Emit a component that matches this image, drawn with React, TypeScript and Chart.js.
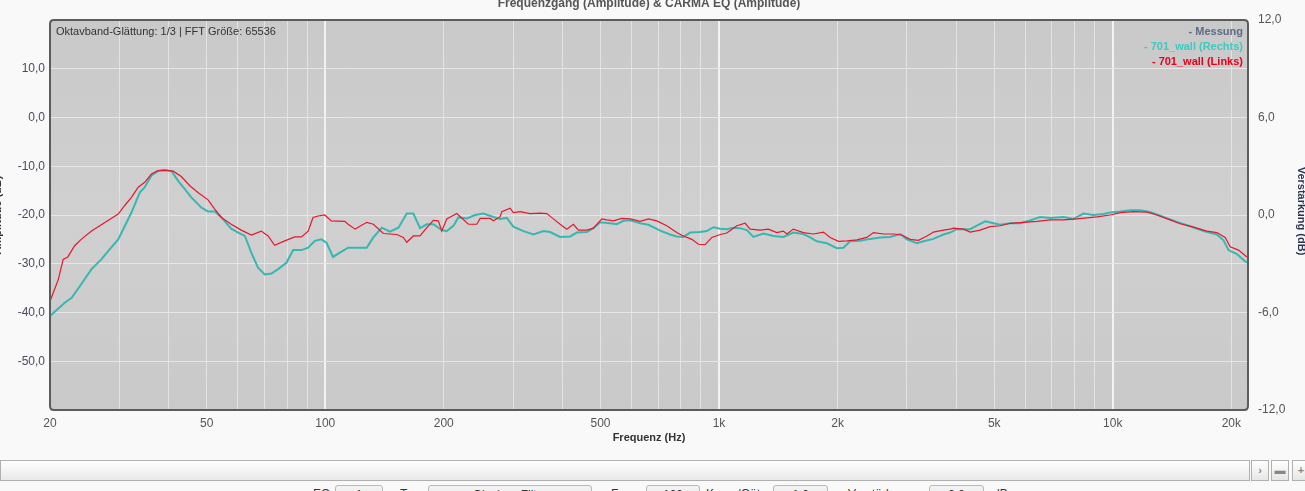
import React, { useEffect, useRef } from 'react';
import { Chart, registerables } from 'chart.js';
Chart.register(...registerables);

const FONT = "'Liberation Sans', Arial, sans-serif";

const chartTitle = 'Frequenzgang (Amplitude) & CARMA EQ (Amplitude)';
const infoText = 'Oktavband-Glättung: 1/3 | FFT Größe: 65536';
const xAxisTitle = 'Frequenz (Hz)';
const leftAxisTitle = 'Amplitude (dB)';
const rightAxisTitle = 'Verstärkung (dB)';

const legendLabels = ['- Messung', '- 701_wall (Rechts)', '- 701_wall (Links)'];
const legendColors = ['#5d6a88', '#3ccac2', '#e8001c'];

const xMin = 20;
const xMax = 22050;
const xGridValues = [20, 30, 40, 50, 60, 70, 80, 90, 100, 200, 300, 400, 500, 600, 700, 800, 900, 1000, 2000, 3000, 4000, 5000, 6000, 7000, 8000, 9000, 10000, 20000];
const xLabelValues = [20, 50, 100, 200, 500, 1000, 2000, 5000, 10000, 20000];
const xDecades = [100, 1000, 10000];

const leftMin = -60;
const leftMax = 20;
const leftStep = 10;
const rightMin = -12;
const rightMax = 12;
const rightStep = 6;

const rechtsFreq = [20, 21.8, 22.7, 24.0, 25.5, 27.0, 28.1, 29.8, 31.0, 32.2, 33.8, 34.8, 36.2, 37.6, 39.1, 40.7, 42.3, 44.0, 45.7, 48.5, 50.4, 52.4, 54.5, 57.7, 60.1, 62.5, 64.9, 67.5, 70.2, 73.0, 75.9, 79.7, 82.9, 87.0, 90.5, 94.1, 97.8, 100.7, 104.7, 108.9, 114.3, 127.5, 132.5, 139.2, 146.1, 153.4, 161.1, 167.4, 174.1, 181.1, 188.2, 197.7, 203.5, 211.6, 217.8, 228.9, 240.2, 252.2, 267.3, 278, 289.1, 300.4, 318.7, 337.9, 358.2, 372.5, 394.9, 418.8, 435.5, 461.7, 479.8, 499, 529, 550, 572, 595, 630, 662, 709, 751, 781, 812, 845, 895, 931, 968, 1007, 1047, 1088, 1131, 1177, 1223, 1297, 1375, 1457, 1545, 1638, 1704, 1772, 1879, 1992, 2070, 2153, 2282, 2420, 2566, 2720, 2884, 3000, 3180, 3306, 3504, 3716, 3864, 4018, 4344, 4518, 4742, 4978, 5176, 5488, 5820, 6170, 6542, 6934, 7496, 7948, 8426, 8934, 9472, 9850, 10444, 11072, 11738, 12446, 13452, 14546, 15726, 17002, 18384, 19108, 19674, 20660, 21900];
const rechtsDb = [-40.7, -38.0, -37.0, -34.2, -31.1, -29.1, -27.4, -25.0, -22.2, -19.5, -15.4, -14.3, -11.9, -11.0, -10.8, -11.0, -13.0, -14.7, -16.4, -18.5, -19.3, -19.3, -20.5, -22.8, -23.6, -24.3, -27.7, -30.8, -32.2, -32.0, -31.1, -29.8, -27.2, -27.2, -26.7, -25.3, -25.0, -25.7, -28.6, -27.7, -26.7, -26.7, -24.6, -22.6, -23.4, -22.6, -19.7, -19.7, -22.7, -21.9, -21.9, -23.1, -23.3, -22.2, -20.5, -20.7, -20.0, -19.7, -20.4, -20.8, -20.6, -22.4, -23.3, -24.0, -23.3, -23.5, -24.5, -24.4, -23.6, -23.5, -22.7, -21.5, -21.7, -21.9, -21.2, -21.1, -21.7, -22.0, -23.2, -24.0, -24.4, -24.5, -23.6, -23.5, -23.3, -22.5, -22.8, -22.9, -22.6, -22.7, -23.1, -24.5, -23.8, -24.3, -24.5, -23.6, -23.9, -24.6, -25.4, -25.8, -26.8, -26.7, -25.4, -25.3, -24.9, -24.6, -24.5, -23.9, -25.0, -25.8, -25.4, -24.9, -24.0, -23.6, -22.9, -22.9, -22.2, -21.3, -21.7, -22.0, -21.7, -21.7, -21.1, -20.4, -20.6, -20.4, -20.8, -19.7, -20.0, -19.8, -19.5, -19.3, -19.0, -19.0, -19.4, -20.4, -21.4, -22.3, -23.3, -24.0, -25.2, -27.2, -28.0, -29.8];

const linksFreq = [20, 21.0, 21.6, 22.2, 23.1, 24.0, 25.5, 27.0, 28.6, 29.8, 31.0, 32.2, 33.5, 34.8, 36.2, 37.6, 39.1, 41.1, 43.1, 45.3, 47.5, 50.4, 52.4, 54.5, 57.7, 61.2, 64.9, 68.8, 71.6, 74.4, 78.9, 83.7, 87.0, 90.5, 93.1, 95.9, 99.7, 103.6, 112.1, 114.3, 119.1, 127.5, 132.5, 140.5, 151.9, 157.9, 161.1, 167.4, 174.1, 181.1, 188.2, 193.8, 197.7, 203.5, 215.8, 231.0, 242.6, 247.4, 262.2, 267.3, 278.0, 280.8, 294.8, 300.4, 312.5, 331.3, 351.3, 365.3, 379.7, 394.9, 410.6, 426.8, 439.5, 461.7, 479.8, 504, 519, 539, 566, 595, 630, 662, 695, 737, 781, 812, 853, 887, 922, 959, 1007, 1047, 1110, 1165, 1200, 1272, 1335, 1402, 1457, 1487, 1545, 1638, 1737, 1842, 1915, 2011, 2112, 2239, 2374, 2468, 2617, 2774, 2914, 3058, 3210, 3373, 3504, 3716, 3864, 3940, 4178, 4344, 4604, 4882, 5176, 5488, 5934, 6416, 6934, 7496, 8106, 8596, 9114, 9850, 10444, 11288, 12208, 12942, 13990, 14832, 16036, 17340, 18384, 19298, 19872, 20860, 21900];
const linksDb = [-37.7, -33.2, -29.1, -28.6, -26.3, -25.0, -23.3, -22.0, -20.7, -19.8, -18.0, -16.4, -14.3, -13.3, -11.6, -10.9, -10.8, -11.0, -12.1, -14.0, -15.4, -16.9, -18.8, -20.5, -21.9, -23.1, -24.1, -23.3, -24.3, -26.2, -25.3, -24.5, -24.5, -23.3, -20.5, -20.2, -20.0, -21.2, -21.3, -21.9, -22.9, -21.5, -21.9, -23.8, -24.0, -24.6, -25.6, -24.3, -24.3, -22.6, -21.1, -21.2, -23.3, -20.8, -19.7, -21.9, -21.9, -20.7, -20.7, -21.2, -20.4, -19.3, -18.6, -19.5, -19.3, -19.7, -19.6, -19.7, -20.8, -21.9, -22.9, -21.9, -23.1, -23.1, -22.7, -20.8, -21.0, -21.2, -20.7, -20.8, -21.3, -20.8, -21.2, -22.2, -23.6, -24.3, -25.0, -26.0, -26.1, -24.6, -24.0, -23.7, -22.2, -21.7, -22.9, -23.1, -22.9, -23.6, -23.3, -23.9, -22.9, -23.6, -23.9, -23.5, -24.6, -25.4, -25.3, -25.1, -24.6, -23.6, -23.9, -23.9, -24.1, -25.0, -25.2, -24.3, -23.5, -23.1, -22.9, -22.7, -22.9, -23.5, -23.1, -22.4, -22.2, -21.7, -21.5, -21.3, -21.0, -21.0, -20.8, -20.6, -20.4, -20.0, -19.5, -19.3, -19.4, -20.0, -21.0, -21.8, -22.5, -23.3, -23.6, -24.6, -26.5, -27.2, -28.6];

const fmt = (v: number) => v.toFixed(1).replace('.', ',');

function roundRect(ctx: CanvasRenderingContext2D, x: number, y: number, w: number, h: number, r: number) {
  ctx.beginPath();
  ctx.moveTo(x + r, y);
  ctx.lineTo(x + w - r, y);
  ctx.quadraticCurveTo(x + w, y, x + w, y + r);
  ctx.lineTo(x + w, y + h - r);
  ctx.quadraticCurveTo(x + w, y + h, x + w - r, y + h);
  ctx.lineTo(x + r, y + h);
  ctx.quadraticCurveTo(x, y + h, x, y + h - r);
  ctx.lineTo(x, y + r);
  ctx.quadraticCurveTo(x, y, x + r, y);
  ctx.closePath();
}

const decorPlugin = {
  id: 'decor',
  beforeDraw(chart: any) {
    const { ctx, chartArea: a } = chart;
    ctx.save();
    const g = ctx.createLinearGradient(0, a.top, 0, a.bottom);
    g.addColorStop(0, '#c9c9c9');
    g.addColorStop(0.5, '#d0d0d0');
    g.addColorStop(1, '#c9c9c9');
    ctx.fillStyle = g;
    roundRect(ctx, a.left, a.top, a.right - a.left, a.bottom - a.top, 4);
    ctx.fill();
    ctx.restore();
  },
  afterDraw(chart: any) {
    const { ctx, chartArea: a } = chart;
    ctx.save();
    ctx.strokeStyle = '#5c5c5c';
    ctx.lineWidth = 2;
    roundRect(ctx, a.left, a.top, a.right - a.left, a.bottom - a.top, 4);
    ctx.stroke();

    // info text
    ctx.font = `11px ${FONT}`;
    ctx.fillStyle = '#333';
    ctx.textAlign = 'left';
    ctx.textBaseline = 'middle';
    ctx.fillText(infoText, a.left + 6, a.top + 12);

    // legend
    ctx.font = `bold 11px ${FONT}`;
    ctx.textAlign = 'right';
    legendLabels.forEach((t, i) => {
      ctx.fillStyle = legendColors[i];
      ctx.fillText(t, a.right - 5, a.top + 12 + i * 15);
    });

    // chart title (partially off-canvas)
    ctx.font = `bold 12px ${FONT}`;
    ctx.fillStyle = '#555';
    ctx.textAlign = 'center';
    ctx.textBaseline = 'alphabetic';
    ctx.fillText(chartTitle, (a.left + a.right) / 2, 7);

    // x axis title
    ctx.font = `bold 11px ${FONT}`;
    ctx.fillStyle = '#333';
    ctx.textBaseline = 'middle';
    ctx.fillText(xAxisTitle, (a.left + a.right) / 2, a.bottom + 28);

    // left axis title
    const cy = (a.top + a.bottom) / 2;
    ctx.save();
    ctx.translate(-2, cy);
    ctx.rotate(-Math.PI / 2);
    ctx.fillStyle = '#333';
    ctx.fillText(leftAxisTitle, 0, 0);
    ctx.restore();

    // right axis title
    ctx.save();
    ctx.translate(1301, cy - 4);
    ctx.rotate(Math.PI / 2);
    ctx.fillStyle = '#2b3552';
    ctx.fillText(rightAxisTitle, 0, 0);
    ctx.restore();

    ctx.restore();
  },
};

function App() {
  const ref = useRef<HTMLCanvasElement | null>(null);

  useEffect(() => {
    if (!ref.current) return;
    const links = linksFreq.map((f, i) => ({ x: f, y: linksDb[i] }));
    const rechts = rechtsFreq.map((f, i) => ({ x: f, y: rechtsDb[i] }));
    const chart = new Chart(ref.current, {
      type: 'line',
      data: {
        datasets: [
          {
            label: '701_wall (Links)',
            data: links,
            borderColor: '#e8162c',
            borderWidth: 1.2,
            pointRadius: 0,
            tension: 0,
            yAxisID: 'y',
            order: 0,
          },
          {
            label: '701_wall (Rechts)',
            data: rechts,
            borderColor: '#38b7b1',
            borderWidth: 2,
            pointRadius: 0,
            tension: 0,
            yAxisID: 'y',
            order: 1,
          },
        ],
      },
      options: {
        responsive: false,
        animation: false,
        devicePixelRatio: 1,
        parsing: true,
        layout: { padding: { top: 20, left: 0, right: 0, bottom: 0 } },
        plugins: {
          legend: { display: false },
          tooltip: { enabled: false },
          title: { display: false },
        },
        scales: {
          x: {
            type: 'logarithmic',
            min: xMin,
            max: xMax,
            afterBuildTicks: (scale: any) => {
              scale.ticks = xGridValues.map((v) => ({ value: v }));
            },
            afterFit: (scale: any) => {
              scale.height = 45;
            },
            ticks: {
              autoSkip: false,
              maxRotation: 0,
              minRotation: 0,
              padding: 6,
              color: '#555',
              font: { family: FONT, size: 12 },
              callback: (v: any) => {
                const n = Number(v);
                if (!xLabelValues.includes(n)) return '';
                return n >= 1000 ? `${n / 1000}k` : String(n);
              },
            },
            grid: {
              drawTicks: false,
              color: (c: any) => (c.tick && xDecades.includes(c.tick.value) ? '#f2f2f2' : '#e3e3e3'),
              lineWidth: (c: any) => (c.tick && xDecades.includes(c.tick.value) ? 2 : 1),
            },
            border: { display: false },
          },
          y: {
            type: 'linear',
            position: 'left',
            min: leftMin,
            max: leftMax,
            afterFit: (scale: any) => {
              scale.width = 50;
            },
            ticks: {
              stepSize: leftStep,
              padding: 5,
              color: '#4a4a60',
              font: { family: FONT, size: 12 },
              callback: (v: any) => (v === leftMin || v === leftMax ? '' : fmt(Number(v))),
            },
            grid: { drawTicks: false, color: '#e6e6e6', lineWidth: 1 },
            border: { display: false },
          },
          y2: {
            type: 'linear',
            position: 'right',
            min: rightMin,
            max: rightMax,
            afterFit: (scale: any) => {
              scale.width = 57;
            },
            ticks: {
              stepSize: rightStep,
              padding: 10,
              color: '#555',
              font: { family: FONT, size: 12 },
              callback: (v: any) => fmt(Number(v)),
            },
            grid: { display: false, drawTicks: false },
            border: { display: false },
          },
        },
      },
      plugins: [decorPlugin],
    } as any);
    return () => chart.destroy();
  }, []);

  const box = (left: number, width: number, text: string) => (
    <div
      style={{
        position: 'absolute',
        left,
        top: 485,
        width,
        height: 20,
        border: '1px solid #b8b8b8',
        borderRadius: 3,
        background: 'linear-gradient(#f4f4f4, #e2e2e2)',
        boxSizing: 'border-box',
        font: `12px ${FONT}`,
        color: '#333',
        textAlign: 'center',
        lineHeight: '18px',
      }}
    >
      {text}
    </div>
  );
  const label = (left: number, text: string) => (
    <div style={{ position: 'absolute', left, top: 487, font: `12px ${FONT}`, color: '#333', whiteSpace: 'nowrap' }}>{text}</div>
  );
  const btn = (left: number, width: number, text: string) => (
    <div
      style={{
        position: 'absolute',
        left,
        top: 460,
        width,
        height: 21,
        border: '1px solid #b0b0b0',
        boxSizing: 'border-box',
        background: 'linear-gradient(#ffffff, #e6e6e6)',
        font: `bold 11px ${FONT}`,
        color: '#888',
        textAlign: 'center',
        lineHeight: '19px',
      }}
    >
      {text}
    </div>
  );

  return (
    <div
      style={{
        position: 'fixed',
        left: 0,
        top: 0,
        width: 1305,
        height: 491,
        overflow: 'hidden',
        background: '#f9f9f9',
      }}
    >
      <canvas ref={ref} width={1305} height={455} style={{ position: 'absolute', left: 0, top: 0, width: 1305, height: 455 }} />
      <div
        style={{
          position: 'absolute',
          left: 0,
          top: 460,
          width: 1250,
          height: 21,
          border: '1px solid #b0b0b0',
          boxSizing: 'border-box',
          background: 'linear-gradient(#ffffff, #e9e9e9)',
        }}
      />
      {btn(1251, 18, '›')}
      {btn(1271, 18, '▬')}
      {btn(1292, 18, '+')}
      {label(313, 'EQ')}
      {box(335, 48, '1')}
      {label(400, 'Typ')}
      {box(428, 164, 'Glocken-Filter')}
      {label(611, 'Freq')}
      {box(646, 54, '100')}
      {label(706, 'Kurve/Güte')}
      {box(773, 55, '1,0')}
      {label(848, 'Verstärkung')}
      {box(929, 55, '0,0')}
      {label(993, 'dB')}
    </div>
  );
}

export default App;
